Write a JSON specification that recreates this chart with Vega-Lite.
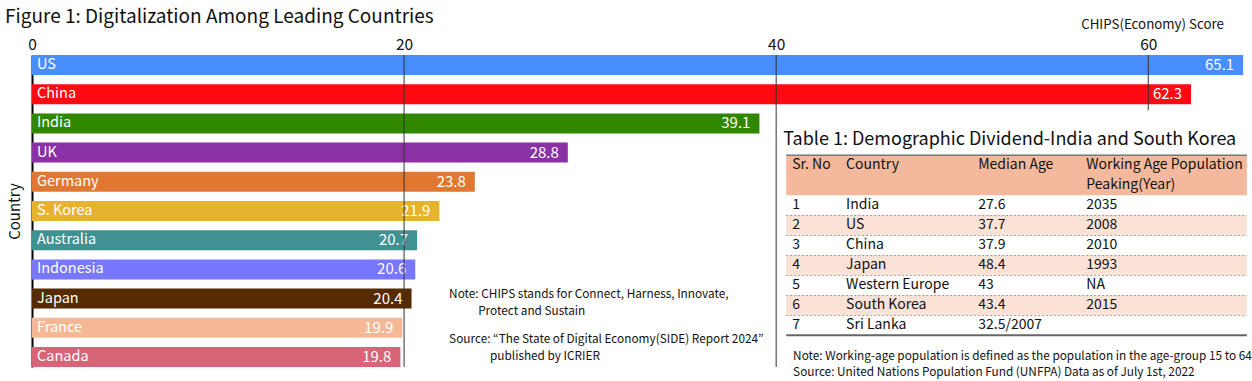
{
  "$schema": "https://vega.github.io/schema/vega-lite/v6.json",
  "autosize": {"type": "none"},
  "width": 1213,
  "height": 312,
  "padding": {"left": 32, "top": 55, "right": 7, "bottom": 14},
  "background": "white",
  "config": {"font": "Noto Sans CJK KR", "view": {"stroke": null}},
  "title": {"text": "Figure 1: Digitalization Among Leading Countries", "anchor": "start", "frame": "group", "fontSize": 19, "fontWeight": "normal", "color": "#111", "dx": -27, "dy": 14},
  "datasets": {
    "scores": [
      {"country": "US", "score": 65.1},
      {"country": "China", "score": 62.3},
      {"country": "India", "score": 39.1},
      {"country": "UK", "score": 28.8},
      {"country": "Germany", "score": 23.8},
      {"country": "S. Korea", "score": 21.9},
      {"country": "Australia", "score": 20.7},
      {"country": "Indonesia", "score": 20.6},
      {"country": "Japan", "score": 20.4},
      {"country": "France", "score": 19.9},
      {"country": "Canada", "score": 19.8}
    ],
    "table": [
      {"row": -1, "sr": "Sr. No", "country": "Country", "median": "Median Age", "year": "Working Age Population"},
      {"row": 0, "sr": "", "country": "", "median": "", "year": "Peaking(Year)"},
      {"row": 1, "sr": "1", "country": "India", "median": "27.6", "year": "2035"},
      {"row": 2, "sr": "2", "country": "US", "median": "37.7", "year": "2008"},
      {"row": 3, "sr": "3", "country": "China", "median": "37.9", "year": "2010"},
      {"row": 4, "sr": "4", "country": "Japan", "median": "48.4", "year": "1993"},
      {"row": 5, "sr": "5", "country": "Western Europe", "median": "43", "year": "NA"},
      {"row": 6, "sr": "6", "country": "South Korea", "median": "43.4", "year": "2015"},
      {"row": 7, "sr": "7", "country": "Sri Lanka", "median": "32.5/2007", "year": ""}
    ]
  },
  "layer": [
    {
      "data": {"name": "scores"},
      "layer": [
        {
          "mark": {"type": "bar"},
          "encoding": {
            "y": {"field": "country", "type": "nominal", "sort": null, "scale": {"paddingInner": 0.314, "paddingOuter": 0},
              "axis": {"title": "Country", "labels": false, "ticks": false, "domain": true, "domainColor": "#000", "domainWidth": 2, "grid": false, "titleFontSize": 15, "titleFontWeight": "normal", "titleColor": "#111", "titlePadding": 10}},
            "x": {"field": "score", "type": "quantitative", "scale": {"domain": [0, 65.2], "nice": false, "zero": true},
              "axis": {"orient": "top", "values": [0, 20, 40, 60], "grid": false, "ticks": false, "domain": false, "labelFontSize": 15.5, "labelColor": "#111", "labelPadding": 3, "labelFlush": false,
                "title": "CHIPS(Economy) Score", "titleFontSize": 13.3, "titleFontWeight": "normal", "titleColor": "#111", "titleX": 1120, "titleY": -31, "titleAlign": "center", "titleBaseline": "middle"}},
            "color": {"field": "country", "type": "nominal", "legend": null,
              "scale": {"domain": ["US", "China", "India", "UK", "Germany", "S. Korea", "Australia", "Indonesia", "Japan", "France", "Canada"],
                "range": ["#488eff", "#ff0a12", "#2f8800", "#8a31a5", "#e07832", "#e5b32e", "#3f9192", "#7777ff", "#562b00", "#f5b897", "#d76477"]}}
          }
        },
        {
          "mark": {"type": "text", "align": "left", "baseline": "middle", "dx": 5, "color": "white", "fontSize": 14.5},
          "encoding": {
            "y": {"field": "country", "type": "nominal", "sort": null},
            "x": {"datum": 0},
            "text": {"field": "country"}
          }
        },
        {
          "mark": {"type": "text", "align": "right", "baseline": "middle", "dx": -9, "color": "white", "fontSize": 15},
          "encoding": {
            "y": {"field": "country", "type": "nominal", "sort": null},
            "x": {"field": "score", "type": "quantitative"},
            "text": {"field": "score", "format": ".1f"}
          }
        },
        {
          "data": {"values": [{"v": 20}, {"v": 40}, {"v": 60}]},
          "mark": {"type": "rule", "color": "#333", "strokeWidth": 1},
          "encoding": {"x": {"field": "v", "type": "quantitative", "title": "CHIPS(Economy) Score"}}
        }
      ]
    },
    {
      "layer": [
        {
          "data": {"values": [{}]},
          "mark": {"type": "rect", "color": "white"},
          "encoding": {
            "x": {"datum": 40.1}, "x2": {"datum": 66.5},
            "y": {"datum": -3.74, "type": "quantitative", "scale": {"domain": [-6.257, 8.837], "reverse": true, "nice": false, "zero": false}, "axis": null},
            "y2": {"datum": 9.8}
          }
        },
        {
          "data": {"values": [{}]},
          "mark": {"type": "rect", "color": "#f4b99c"},
          "encoding": {
            "x": {"datum": 40.54}, "x2": {"datum": 65.3},
            "y": {"datum": -1.5, "type": "quantitative", "axis": null},
            "y2": {"datum": 0.5}
          }
        },
        {
          "data": {"name": "table"},
          "transform": [{"filter": "datum.row >= 2 && datum.row % 2 == 0"}],
          "mark": {"type": "bar", "orient": "horizontal", "size": 20.67, "color": "#fbe2d7"},
          "encoding": {
            "x": {"datum": 40.54}, "x2": {"datum": 65.3},
            "y": {"field": "row", "type": "quantitative", "axis": null}
          }
        },
        {
          "data": {"name": "table"},
          "transform": [{"filter": "datum.row >= 1 && datum.row <= 6"}],
          "mark": {"type": "rule", "color": "#a0a0a0", "strokeWidth": 1, "strokeDash": [2, 2], "yOffset": 10.33},
          "encoding": {
            "x": {"datum": 40.54}, "x2": {"datum": 65.3},
            "y": {"field": "row", "type": "quantitative", "axis": null}
          }
        },
        {
          "data": {"values": [{}]},
          "mark": {"type": "rule", "color": "#777", "strokeWidth": 1.5},
          "encoding": {
            "x": {"datum": 40.54}, "x2": {"datum": 65.3},
            "y": {"datum": -1.5, "type": "quantitative", "axis": null}
          }
        },
        {
          "data": {"values": [{}]},
          "mark": {"type": "rule", "color": "#666", "strokeWidth": 2},
          "encoding": {
            "x": {"datum": 40.54}, "x2": {"datum": 65.3},
            "y": {"datum": 7.5, "type": "quantitative", "axis": null}
          }
        },
        {
          "data": {"name": "table"},
          "mark": {"type": "text", "align": "left", "baseline": "middle", "fontSize": 14, "color": "#111"},
          "encoding": {"x": {"datum": 40.86}, "y": {"field": "row", "type": "quantitative", "axis": null}, "text": {"field": "sr"}}
        },
        {
          "data": {"name": "table"},
          "mark": {"type": "text", "align": "left", "baseline": "middle", "fontSize": 14, "color": "#111"},
          "encoding": {"x": {"datum": 43.76}, "y": {"field": "row", "type": "quantitative", "axis": null}, "text": {"field": "country"}}
        },
        {
          "data": {"name": "table"},
          "mark": {"type": "text", "align": "left", "baseline": "middle", "fontSize": 14, "color": "#111"},
          "encoding": {"x": {"datum": 50.86}, "y": {"field": "row", "type": "quantitative", "axis": null}, "text": {"field": "median"}}
        },
        {
          "data": {"name": "table"},
          "mark": {"type": "text", "align": "left", "baseline": "middle", "fontSize": 14, "color": "#111"},
          "encoding": {"x": {"datum": 56.67}, "y": {"field": "row", "type": "quantitative", "axis": null}, "text": {"field": "year"}}
        },
        {
          "data": {"values": [{"t": "Table 1: Demographic Dividend-India and South Korea"}]},
          "mark": {"type": "text", "align": "left", "baseline": "middle", "fontSize": 18, "color": "#111"},
          "encoding": {"x": {"datum": 40.38}, "y": {"datum": -2.24, "type": "quantitative", "axis": null}, "text": {"field": "t"}}
        },
        {
          "data": {"values": [{"t": "Note: Working-age population is defined as the population in the age-group 15 to 64\nSource: United Nations Population Fund (UNFPA) Data as of July 1st, 2022"}]},
          "mark": {"type": "text", "align": "left", "baseline": "middle", "fontSize": 11.8, "lineHeight": 16, "lineBreak": "\n", "color": "#111"},
          "encoding": {"x": {"datum": 40.91}, "y": {"datum": 8.547, "type": "quantitative", "axis": null}, "text": {"field": "t"}}
        },
        {
          "data": {"values": [{"t": "Note: CHIPS stands for Connect, Harness, Innovate,"}]},
          "mark": {"type": "text", "align": "left", "baseline": "middle", "fontSize": 11.8, "color": "#111"},
          "encoding": {"x": {"datum": 22.42}, "y": {"datum": 5.45, "type": "quantitative", "axis": null}, "text": {"field": "t"}}
        },
        {
          "data": {"values": [{"t": "Protect and Sustain"}]},
          "mark": {"type": "text", "align": "left", "baseline": "middle", "fontSize": 11.8, "color": "#111"},
          "encoding": {"x": {"datum": 23.98}, "y": {"datum": 6.27, "type": "quantitative", "axis": null}, "text": {"field": "t"}}
        },
        {
          "data": {"values": [{"t": "Source: \u201cThe State of Digital Economy(SIDE) Report 2024\u201d"}]},
          "mark": {"type": "text", "align": "left", "baseline": "middle", "fontSize": 11.8, "color": "#111"},
          "encoding": {"x": {"datum": 22.42}, "y": {"datum": 7.68, "type": "quantitative", "axis": null}, "text": {"field": "t"}}
        },
        {
          "data": {"values": [{"t": "published by ICRIER"}]},
          "mark": {"type": "text", "align": "left", "baseline": "middle", "fontSize": 11.8, "color": "#111"},
          "encoding": {"x": {"datum": 24.62}, "y": {"datum": 8.55, "type": "quantitative", "axis": null}, "text": {"field": "t"}}
        }
      ]
    }
  ],
  "resolve": {"scale": {"y": "independent"}}
}
